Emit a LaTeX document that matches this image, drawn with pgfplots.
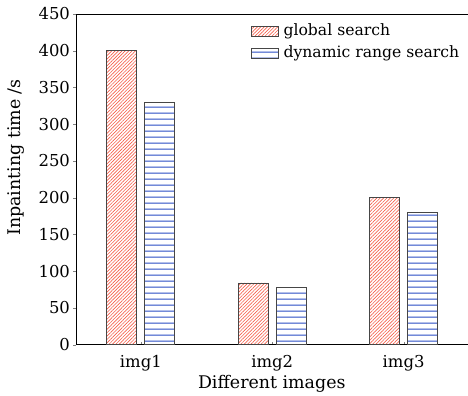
\documentclass[border=0pt]{standalone}
\usepackage{fontspec}
\setmainfont{DejaVu Serif}
\usepackage{pgfplots}
\pgfplotsset{compat=1.18}
\usetikzlibrary{patterns.meta}
\definecolor{hatchred}{RGB}{245,95,75}
\definecolor{hatchblue}{RGB}{40,75,195}
\definecolor{edgegray}{RGB}{70,70,70}
\tikzdeclarepattern{
  name=bluehlines, type=colored,
  bounding box={(0pt,0pt) and (2pt,5.8pt)},
  tile size={(2pt,5.8pt)},
  code={\fill[hatchblue] (-0.5pt,2.4pt) rectangle (2.5pt,3.4pt);}
}
\begin{document}
\begin{tikzpicture}
\begin{axis}[
  scale only axis,
  width=392bp, height=331bp,
  xmin=0.506, xmax=3.487,
  ymin=0, ymax=450,
  axis x line=box, axis y line=left,
  every outer y axis line/.append style={-},
  y axis line style={-},
  axis line style={line width=0.8pt},
  xtick pos=bottom, ytick pos=left,
  xtick={1,2,3}, xticklabels={img1,img2,img3},
  ytick={0,50,...,450},
  tick align=outside,
  major tick length=2.5pt,
  xtick style={yshift=2.5pt},
  /pgf/number format/assume math mode=true,
  tick label style={font=\fontsize{16.5}{20}\selectfont},
  xticklabel style={yshift=-5bp},
  xlabel={Different images},
  ylabel={Inpainting time /s},
  xlabel style={font=\fontsize{17.5}{21}\selectfont, yshift=3pt},
  every axis y label/.style={at={([xshift=-69bp]rel axis cs:0,0.566)}, rotate=90, anchor=north, inner sep=0pt,
     font=\fontsize{17.5}{21}\selectfont},
  ybar, bar width=30bp,
  legend style={at={(0.446,0.973)}, anchor=north west, draw=none, fill=none,
    font=\fontsize{15.7}{19}\selectfont, inner sep=0pt, row sep=5bp, column sep=4bp,
    nodes={inner sep=1pt, text height=11bp, text depth=4bp}},
  legend cell align=left,
  legend image code/.code={\draw[#1, line width=0.8pt] (0bp,-5bp) rectangle (27bp,5bp);},
]
\addplot[bar shift=-19bp, draw=edgegray, line width=0.9pt,
  pattern={Lines[angle=45,distance=2.4pt,line width=0.65pt]}, pattern color=hatchred]
  coordinates {(1,400) (2,84) (3,200)};
\addlegendentry{global search}
\addplot[bar shift=19bp, draw=edgegray, line width=0.9pt,
  pattern=bluehlines]
  coordinates {(1,330) (2,78) (3,180)};
\addlegendentry{dynamic range search}
\coordinate (tl) at (rel axis cs:0,1);
\end{axis}
\path (tl) ++(-76bp,14bp);
\end{tikzpicture}
\end{document}
